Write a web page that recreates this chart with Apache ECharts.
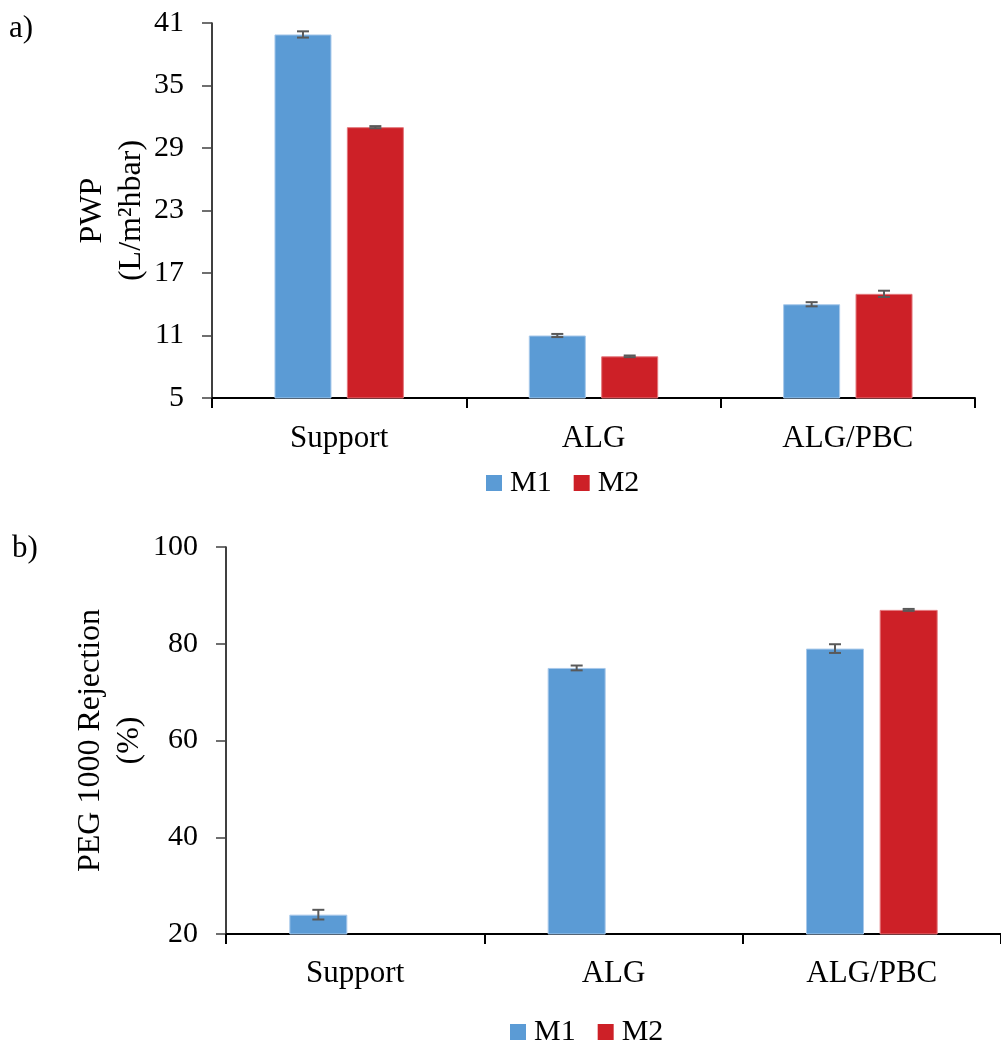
<!DOCTYPE html>
<html>
<head>
<meta charset="utf-8">
<title>PWP and PEG 1000 rejection</title>
<script src="https://cdn.jsdelivr.net/npm/echarts@6/dist/echarts.min.js"></script>
<style>
  html, body { margin: 0; padding: 0; background: #fff; }
  #chart { width: 1001px; height: 1041px; }
</style>
</head>
<body>
<div id="chart"></div>
<script>
// Membrane groups on the category axis
const categories = ['Support', 'ALG', 'ALG/PBC'];
const seriesNames = ['M1', 'M2'];

// a) Pure water permeability, L/(m²·h·bar), mean and error
const pwpM1 = [39.9, 11.0, 14.0];
const pwpM1Err = [0.3, 0.15, 0.2];
const pwpM2 = [31.0, 9.0, 15.0];
const pwpM2Err = [0.1, 0.08, 0.3];

// b) PEG 1000 rejection, %, mean and error (M2 measured only for ALG/PBC)
const rejM1 = [24.0, 75.0, 79.0];
const rejM1Err = [1.0, 0.5, 0.9];
const rejM2 = [null, null, 87.0];
const rejM2Err = [null, null, 0.2];

// Value-axis tick settings
const pwpTicks = { min: 5, max: 41, interval: 6 };
const rejTicks = { min: 20, max: 100, interval: 20 };

const FONT = '"Liberation Serif", "Times New Roman", serif';
const BLUE = '#5B9BD5';
const RED = '#CD2027';
const BAR_GAP = 0.27;

const chart = echarts.init(document.getElementById('chart'), null, { renderer: 'canvas' });

// Error bars drawn next to their bar: slot -1 = left bar, +1 = right bar
function errorBars(slot, barWidth) {
  return function (params, api) {
    const cat = api.value(0);
    const mean = api.value(1);
    const err = api.value(2);
    if (mean == null || isNaN(mean) || err == null || isNaN(err)) return null;
    const top = api.coord([cat, mean + err]);
    const bottom = api.coord([cat, mean - err]);
    const x = top[0] + slot * barWidth * (1 + BAR_GAP) / 2;
    const half = 6;
    const style = { stroke: '#595959', lineWidth: 2 };
    return {
      type: 'group',
      children: [
        { type: 'line', shape: { x1: x, y1: top[1], x2: x, y2: bottom[1] }, style: style },
        { type: 'line', shape: { x1: x - half, y1: top[1], x2: x + half, y2: top[1] }, style: style },
        { type: 'line', shape: { x1: x - half, y1: bottom[1], x2: x + half, y2: bottom[1] }, style: style }
      ]
    };
  };
}

function errData(values, errs) {
  return values.map((v, i) => [i, v, errs[i]]);
}

const barWidthA = 57;
const barWidthB = 58;

function xAxisFor(gridIndex, margin) {
  return {
    type: 'category',
    gridIndex: gridIndex,
    data: categories,
    boundaryGap: true,
    axisLine: { lineStyle: { color: '#000', width: 2 } },
    axisTick: { show: true, length: 10, inside: false, alignWithLabel: false, lineStyle: { color: '#000', width: 2 } },
    axisLabel: { color: '#000', fontFamily: FONT, fontSize: 31, margin: margin },
    splitLine: { show: false }
  };
}

function yAxisFor(gridIndex, ticks, name, nameGap) {
  return {
    type: 'value',
    gridIndex: gridIndex,
    min: ticks.min,
    max: ticks.max,
    interval: ticks.interval,
    name: name,
    nameLocation: 'middle',
    nameGap: nameGap,
    nameMoveOverlap: false,
    nameTextStyle: { color: '#000', fontFamily: FONT, fontSize: 32, lineHeight: 39 },
    axisLine: { show: true, lineStyle: { color: '#000', width: 1.5 } },
    axisTick: { show: true, length: 10, lineStyle: { color: '#404040', width: 1.5 } },
    axisLabel: { color: '#000', fontFamily: FONT, fontSize: 30, margin: 28 },
    splitLine: { show: false }
  };
}

function barSeries(name, data, axisIndex, color, border, width) {
  return {
    name: name,
    type: 'bar',
    xAxisIndex: axisIndex,
    yAxisIndex: axisIndex,
    data: data,
    barWidth: width,
    barGap: (BAR_GAP * 100) + '%',
    clip: true,
    itemStyle: { color: color, borderColor: border, borderWidth: 1 },
    emphasis: { disabled: true }
  };
}

function errSeries(values, errs, axisIndex, slot, width) {
  return {
    type: 'custom',
    xAxisIndex: axisIndex,
    yAxisIndex: axisIndex,
    data: errData(values, errs),
    renderItem: errorBars(slot, width),
    encode: { x: 0, y: [1] },
    z: 5,
    silent: true
  };
}

const legendCommon = {
  orient: 'horizontal',
  itemWidth: 16,
  itemHeight: 16,
  itemGap: 22,
  icon: 'rect',
  selectedMode: false,
  itemStyle: { borderWidth: 0 },
  textStyle: { color: '#000', fontFamily: FONT, fontSize: 30, padding: [0, 0, 0, 3] },
  data: seriesNames
};

const option = {
  animation: false,
  backgroundColor: '#fff',
  grid: [
    { left: 212, top: 23, width: 763, height: 375, containLabel: false },
    { left: 226, top: 547, width: 780, height: 387, containLabel: false }
  ],
  legend: [
    Object.assign({ left: 481, top: 463 }, legendCommon),
    Object.assign({ left: 505, top: 1012 }, legendCommon)
  ],
  xAxis: [xAxisFor(0, 25), xAxisFor(1, 24)],
  yAxis: [
    yAxisFor(0, pwpTicks, 'PWP\n(L/m²hbar)', 61),
    yAxisFor(1, rejTicks, 'PEG 1000 Rejection\n(%)', 77)
  ],
  graphic: [
    { type: 'text', left: 9, top: 13, style: { text: 'a)', fill: '#000', font: '31px ' + FONT } },
    { type: 'text', left: 12, top: 533, style: { text: 'b)', fill: '#000', font: '31px ' + FONT } }
  ],
  series: [
    barSeries('M1', pwpM1, 0, BLUE, '#A7C8EA', barWidthA),
    barSeries('M2', pwpM2, 0, RED, '#E3777C', barWidthA),
    errSeries(pwpM1, pwpM1Err, 0, -1, barWidthA),
    errSeries(pwpM2, pwpM2Err, 0, 1, barWidthA),
    barSeries('M1', rejM1, 1, BLUE, '#A7C8EA', barWidthB),
    barSeries('M2', rejM2, 1, RED, '#E3777C', barWidthB),
    errSeries(rejM1, rejM1Err, 1, -1, barWidthB),
    errSeries(rejM2, rejM2Err, 1, 1, barWidthB)
  ]
};

chart.setOption(option);
</script>
</body>
</html>
